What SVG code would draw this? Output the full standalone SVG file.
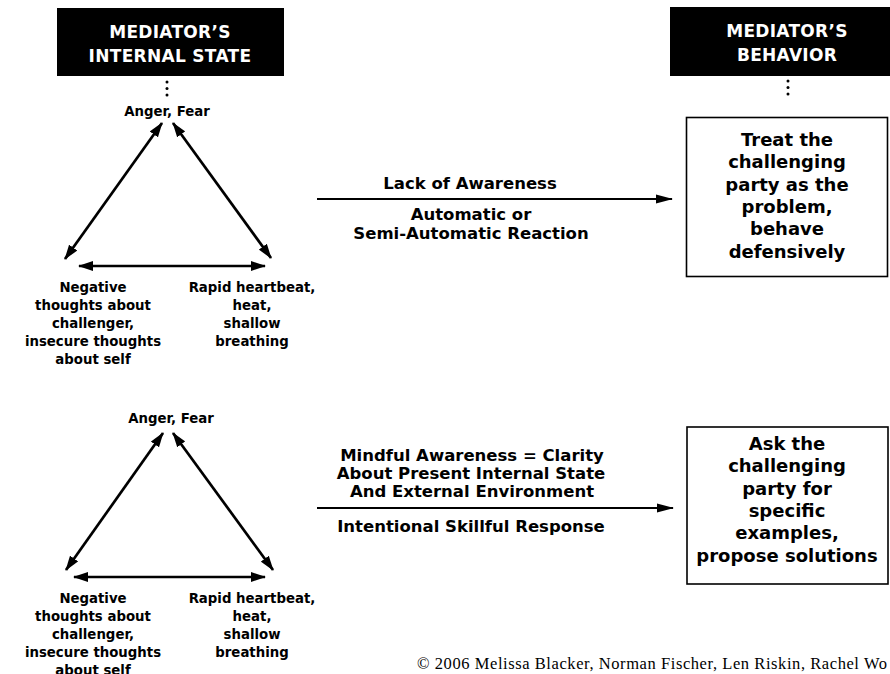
<svg xmlns="http://www.w3.org/2000/svg" width="890" height="674" viewBox="0 0 890 674">
<style>
  .hdr { fill:#000; }
  .hdrtxt { font-family:"DejaVu Sans", sans-serif; font-weight:700; font-size:17px; fill:#fff; text-anchor:middle; letter-spacing:0.3px; }
  .lbl { font-family:"DejaVu Sans", sans-serif; font-weight:700; font-size:13.3px; fill:#000; text-anchor:middle; }
  .big { font-family:"DejaVu Sans", sans-serif; font-weight:700; font-size:18px; fill:#000; text-anchor:middle; }
  .arrlbl { font-family:"DejaVu Sans", sans-serif; font-weight:700; font-size:16.5px; fill:#000; text-anchor:middle; }
  .box { fill:#fff; stroke:#000; stroke-width:1.6; }
  .dbl { stroke:#000; stroke-width:2.7; fill:none; marker-start:url(#ah); marker-end:url(#ah); }
  .one { stroke:#000; stroke-width:2; fill:none; marker-end:url(#ah2); }
  .dot { fill:#000; }
  .copy { font-family:"Liberation Serif", serif; font-size:16.5px; fill:#000; }
</style>
<defs>
  <marker id="ah" markerUnits="userSpaceOnUse" markerWidth="15" markerHeight="11" refX="14" refY="5.5" orient="auto-start-reverse">
    <path d="M0,0.5 L15,5.5 L0,10.5 z" fill="#000"/>
  </marker>
  <marker id="ah2" markerUnits="userSpaceOnUse" markerWidth="17" markerHeight="10" refX="16" refY="5" orient="auto">
    <path d="M0,0.5 L17,5 L0,9.5 z" fill="#000"/>
  </marker>
</defs>
<rect width="890" height="674" fill="#fff"/>

<g id="header-internal">
  <rect class="hdr" x="57" y="8" width="227" height="68"/>
  <text class="hdrtxt" x="170" y="38">MEDIATOR’S</text>
  <text class="hdrtxt" x="170" y="62">INTERNAL STATE</text>
  <circle class="dot" cx="167" cy="82" r="1.5"/>
  <circle class="dot" cx="167" cy="88.5" r="1.5"/>
  <circle class="dot" cx="167" cy="95" r="1.5"/>
</g>

<g id="header-behavior">
  <rect class="hdr" x="670" y="7" width="240" height="69"/>
  <text class="hdrtxt" x="787" y="37">MEDIATOR’S</text>
  <text class="hdrtxt" x="787" y="61">BEHAVIOR</text>
  <circle class="dot" cx="788" cy="81" r="1.5"/>
  <circle class="dot" cx="788" cy="87.5" r="1.5"/>
  <circle class="dot" cx="788" cy="94" r="1.5"/>
</g>

<g id="top-anger">
  <text class="lbl" x="167" y="116">Anger, Fear</text>
</g>
<g id="top-thoughts">
  <text class="lbl" x="93" y="292">Negative</text>
  <text class="lbl" x="93" y="310">thoughts about</text>
  <text class="lbl" x="93" y="328">challenger,</text>
  <text class="lbl" x="93" y="346">insecure thoughts</text>
  <text class="lbl" x="93" y="364">about self</text>
</g>
<g id="top-body">
  <text class="lbl" x="252" y="292">Rapid heartbeat,</text>
  <text class="lbl" x="252" y="310">heat,</text>
  <text class="lbl" x="252" y="328">shallow</text>
  <text class="lbl" x="252" y="346">breathing</text>
</g>
<g id="top-behavior">
  <rect class="box" x="686.5" y="117.5" width="201" height="159"/>
  <text class="big" x="787" y="146">Treat the</text>
  <text class="big" x="787" y="168">challenging</text>
  <text class="big" x="787" y="190.5">party as the</text>
  <text class="big" x="787" y="213">problem,</text>
  <text class="big" x="787" y="235">behave</text>
  <text class="big" x="787" y="257.5">defensively</text>
</g>

<g id="bottom-anger">
  <text class="lbl" x="171" y="423">Anger, Fear</text>
</g>
<g id="bottom-thoughts">
  <text class="lbl" x="93" y="603">Negative</text>
  <text class="lbl" x="93" y="621">thoughts about</text>
  <text class="lbl" x="93" y="639">challenger,</text>
  <text class="lbl" x="93" y="657">insecure thoughts</text>
  <text class="lbl" x="93" y="675">about self</text>
</g>
<g id="bottom-body">
  <text class="lbl" x="252" y="603">Rapid heartbeat,</text>
  <text class="lbl" x="252" y="621">heat,</text>
  <text class="lbl" x="252" y="639">shallow</text>
  <text class="lbl" x="252" y="657">breathing</text>
</g>
<g id="bottom-behavior">
  <rect class="box" x="687" y="427" width="201" height="157"/>
  <text class="big" x="787" y="450">Ask the</text>
  <text class="big" x="787" y="472">challenging</text>
  <text class="big" x="787" y="494.5">party for</text>
  <text class="big" x="787" y="517">specific</text>
  <text class="big" x="787" y="539">examples,</text>
  <text class="big" x="787" y="561.5">propose solutions</text>
</g>

<g id="connectors">
  <line class="dbl" x1="162" y1="123" x2="65" y2="259"/>
  <line class="dbl" x1="173" y1="123" x2="271" y2="258"/>
  <line class="dbl" x1="79" y1="266" x2="265" y2="266"/>
  <line class="dbl" x1="163" y1="433" x2="66" y2="570"/>
  <line class="dbl" x1="173" y1="433" x2="273" y2="570"/>
  <line class="dbl" x1="74" y1="577" x2="265" y2="577"/>
  <line class="one" x1="317" y1="199" x2="672" y2="199"/>
  <line class="one" x1="317" y1="508" x2="673" y2="508"/>
</g>

<g id="label-top-arrow">
  <text class="arrlbl" x="470" y="189">Lack of Awareness</text>
  <text class="arrlbl" x="471" y="220">Automatic or</text>
  <text class="arrlbl" x="471" y="239">Semi-Automatic Reaction</text>
</g>
<g id="label-bottom-arrow">
  <text class="arrlbl" x="472" y="461">Mindful Awareness = Clarity</text>
  <text class="arrlbl" x="471" y="479">About Present Internal State</text>
  <text class="arrlbl" x="472" y="497">And External Environment</text>
  <text class="arrlbl" x="471" y="532">Intentional Skillful Response</text>
</g>

<text class="copy" x="417" y="669" textLength="470" lengthAdjust="spacing">© 2006 Melissa Blacker, Norman Fischer, Len Riskin, Rachel Wo</text>
</svg>
